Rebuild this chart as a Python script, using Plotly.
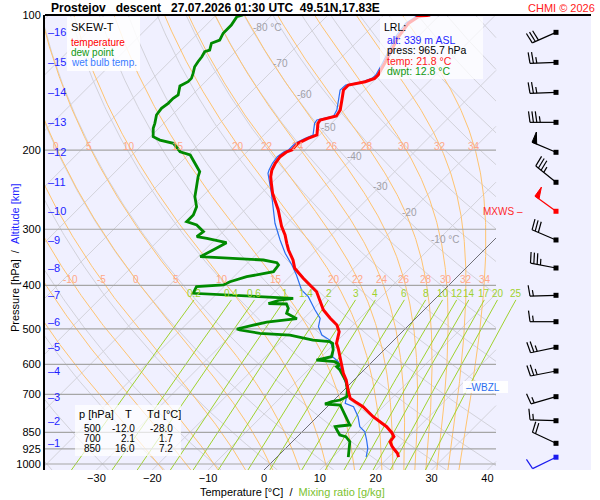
import numpy as np
import plotly.graph_objects as go

# ------------------------------------------------------------------ data
TEMP_P = [965.7, 946.6, 927.4, 911.8, 891.9, 869.4, 851.7, 825.9, 784.6, 745.4,
          726.5, 714.0, 690.2, 650.0, 628.1, 601.9, 566.8, 552.5, 538.5, 507.4,
          490.3, 473.7, 454.0, 431.3, 413.3, 385.8, 366.6, 351.3, 333.7, 322.5,
          309.0, 296.1, 286.1, 271.8, 258.3, 249.5, 237.1, 229.2, 221.4, 213.9,
          206.8, 201.6, 199.8, 193.1, 188.2, 185.0, 174.3, 171.3, 167.9, 162.8,
          154.6, 146.9, 143.2, 140.8, 138.4, 136.0, 128.1, 119.7, 111.8, 104.3,
          100.9, 100.0]
TEMP_T = [21.8, 20.9, 19.6, 18.6, 17.5, 17.3, 16.2, 14.2, 10.0, 6.4,
          4.1, 2.6, 1.1, -1.4, -3.1, -4.9, -7.3, -8.5, -9.7, -11.3,
          -12.9, -15.3, -18.0, -20.4, -22.5, -27.3, -30.6, -32.4, -35.0, -36.5,
          -38.3, -40.4, -41.9, -44.0, -46.4, -48.0, -50.0, -51.3, -52.3, -52.9,
          -53.2, -52.9, -52.3, -52.4, -51.5, -50.5, -52.4, -52.6, -50.4, -50.8,
          -52.3, -53.8, -53.8, -51.4, -50.3, -50.3, -51.2, -52.3, -53.5, -54.1,
          -53.5, -51.7]

WETB_P = [965.7, 922.7, 884.2, 847.4, 825.9, 784.6, 745.4, 732.5, 684.2, 617.5,
          591.8, 576.8, 557.3, 529.5, 516.1, 494.6, 473.7, 454.0, 438.6, 424.0,
          409.7, 379.4, 360.4, 339.4, 317.0, 291.0, 249.5, 225.2, 221.4, 213.9,
          206.8, 201.6, 199.8, 193.1, 188.2, 185.0, 174.3, 171.3, 167.9, 162.8,
          154.6, 146.9, 143.2, 140.8, 138.4, 136.0, 128.1, 119.7, 111.8, 104.3,
          100.9, 100.0]
WETB_T = [16.0, 14.7, 13.0, 11.2, 9.4, 7.3, 4.7, 2.6, 0.7, -4.1,
          -6.1, -8.0, -9.1, -11.5, -13.8, -15.9, -17.1, -19.5, -21.3, -23.1,
          -25.5, -29.1, -31.7, -35.0, -38.3, -42.2, -48.2, -52.4, -52.8, -53.4,
          -53.7, -53.4, -52.9, -52.9, -52.0, -51.2, -53.0, -53.2, -50.9, -51.4,
          -52.9, -54.4, -54.3, -51.9, -50.8, -50.7, -51.6, -52.8, -54.0, -54.6,
          -54.0, -52.2]

DEWP_P = [965.7, 930.7, 891.9, 869.4, 861.8, 840.0, 825.9, 822.9, 818.7, 784.6,
          751.6, 738.9, 735.2, 726.5, 720.2, 708.1, 684.2, 655.7, 617.5, 607.2,
          601.9, 591.8, 586.7, 576.8, 557.3, 538.5, 534.1, 529.5, 516.1, 511.6,
          503.0, 500.4, 482.8, 474.7, 461.7, 450.0, 440.2, 439.1, 431.3, 427.6,
          416.7, 402.8, 399.3, 392.6, 382.7, 373.0, 360.4, 356.2, 351.3, 345.4,
          333.7, 321.5, 314.3, 311.7, 303.8, 293.6, 288.6, 278.9, 267.3, 253.9,
          241.2, 229.2, 223.4, 213.9, 205.0, 201.6, 193.1, 189.9, 186.7, 178.8,
          174.3, 167.0, 161.4, 157.3, 153.3, 150.7, 143.9, 140.8, 138.4, 134.9,
          130.4, 127.1, 123.9, 120.7, 119.7, 115.6, 113.7, 109.8, 108.0, 105.3,
          100.9, 100.0]
DEWP_T = [12.8, 11.7, 10.3, 8.7, 7.3, 5.9, 5.0, 5.7, 7.3, 5.1,
          2.9, 2.0, -0.9, -0.1, 1.1, 1.7, 0.6, -1.1, -4.3, -5.5,
          -5.2, -6.7, -10.3, -8.2, -9.1, -10.4, -11.2, -14.5, -19.5, -25.2,
          -29.4, -30.1, -26.0, -21.2, -24.0, -24.6, -25.7, -29.0, -27.6, -25.5,
          -44.3, -44.9, -40.4, -39.8, -37.7, -33.8, -34.1, -34.8, -37.7, -49.6,
          -48.5, -47.4, -51.7, -53.8, -53.5, -55.9, -58.3, -58.3, -59.2, -61.3,
          -62.8, -64.3, -64.9, -67.3, -69.6, -72.0, -74.7, -77.7, -79.5, -81.0,
          -81.6, -82.8, -83.1, -82.8, -82.8, -82.5, -83.8, -83.1, -83.1, -83.7,
          -84.6, -84.9, -85.1, -85.5, -84.9, -85.8, -84.9, -85.5, -85.5, -85.5,
          -86.0, -85.2]

ALT_KM = [16, 15, 14, 13, 12, 11, 10, 9, 8, 7, 6, 5, 4, 3, 2, 1]
ALT_P = [109.3, 127.5, 148.7, 173.4, 202.2, 235.8, 273.6, 317.0, 366.0, 421.0,
         482.0, 549.7, 620.7, 708.0, 800.9, 899.3]

LRL_ALT_M = 339
LRL_P = 965.7
LRL_T = 21.8
LRL_TD = 12.8

WIND_P = ALT_P + [LRL_P]
WIND_DIR = [246, 268, 268, 270, 293, 309, 306, 293, 281, 268, 270, 258, 259, 254, 272, 295, 244]
WIND_KT = [30, 25, 25, 35, 50, 35, 50, 30, 35, 15, 15, 25, 25, 15, 15, 20, 10]
MXWS_INDEX = 6

WBZL_P = 673.8

PRESS_TICKS = [100, 200, 300, 400, 500, 600, 700, 850, 925, 1000]
TEMP_TICKS = [-30, -20, -10, 0, 10, 20, 30, 40]

ISOTHERMS = list(range(-130, 50, 10))
DRY_THETA = list(range(-40, 270, 10))
ISOTHERM_LABEL_T = [-80, -70, -60, -50, -40, -30, -20, -10]
ISOTHERM_LABEL_P = [106.4, 128.0, 150.7, 177.6, 207.0, 240.4, 276.0, 317.0]
ISOTHERM_LABEL_TXT = ["-80 °C", "-70", "-60", "-50", "-40", "-30", "-20", "-10 °C"]

MOIST_THW = [-20, -15, -10, -5, 0, 5, 10, 15, 20, 22, 24, 26, 28, 30, 32, 34]
MOIST_LAB_UPPER = [0, 5, 10, 15, 20, 22, 24, 26, 28, 30, 32, 34]
MOIST_LAB_LOWER = [-10, -5, 0, 5, 10, 15, 20, 22, 24, 26, 28, 30, 32, 34]
MOIST_LAB_UPPER_P = 196.0
MOIST_LAB_LOWER_P = 389.0

MIXR = [0.2, 0.4, 0.6, 1, 1.4, 2, 3, 4, 6, 8, 10, 12, 14, 17, 20, 25]
MIXR_TXT = ["0.2", "0.4", "0.6", "1", "1.4", "2", "3", "4", "6", "8", "10", "12", "14", "17", "20", "25"]
MIXR_TOP_P = 431.0
MIXR_LAB_P = 418.0

TABLE_P = [500, 700, 850]
TABLE_T = [-12.0, 2.1, 16.0]
TABLE_TD = [-28.0, 1.7, 7.2]

# ------------------------------------------------------------------ geometry
FONT = "Liberation Sans, Arial, sans-serif"
W, H = 600, 500
PL, PR, PT, PB = 45, 591, 15, 470
P_TOP, P_BOT = 100.0, 1031.2
PX_PER_DEG = 5.586
X_ZERO_PX = 264.0
GRID_RIGHT_PX = 496.0
LOGSPAN = np.log10(P_BOT) - np.log10(P_TOP)
SKEW = (PB - PT) / PX_PER_DEG / LOGSPAN


def px_to_xs(px):
    return (px - X_ZERO_PX) / PX_PER_DEG


XL, XR, XG = px_to_xs(PL), px_to_xs(PR), px_to_xs(GRID_RIGHT_PX)


def skew(T, p):
    return np.asarray(T, float) + SKEW * np.log10(P_BOT / np.asarray(p, float))


def p_to_py(p):
    return PT + (PB - PT) * (np.log10(p) - np.log10(P_TOP)) / LOGSPAN


def paper_x(px):
    return (px - PL) / (PR - PL)


def paper_y(py):
    return (PB - py) / (PB - PT)


def clip_right(xs, ps, xmax):
    lp = np.log10(np.asarray(ps, float))
    xs = np.asarray(xs, float)
    ox, op = [], []
    prev_in = None
    for i in range(len(xs)):
        inside = xs[i] <= xmax
        if i > 0 and inside != prev_in:
            t = (xmax - xs[i - 1]) / (xs[i] - xs[i - 1])
            li = lp[i - 1] + t * (lp[i] - lp[i - 1])
            ox.append(float(xmax)); op.append(float(10 ** li))
            if not inside:
                ox.append(None); op.append(None)
        if inside:
            ox.append(float(xs[i])); op.append(float(10 ** lp[i]))
        prev_in = inside
    ox.append(None); op.append(None)
    return ox, op


def es(Tc):
    return 6.112 * np.exp(17.67 * Tc / (Tc + 243.5))


def dT_dlnp(T, p):
    e = es(T - 273.15)
    rs = 0.622 * e / (p - e)
    return (287.04 * T + 2.501e6 * rs) / (1005.7 + 2.501e6 ** 2 * rs * 0.622 / (287.04 * T ** 2))


def moist_adiabat(thw):
    def integ(p0, p1, n):
        lps = np.linspace(np.log(p0), np.log(p1), n + 1)
        T = thw + 273.15
        out = [T]
        for i in range(n):
            h = lps[i + 1] - lps[i]
            pa, pm, pb = np.exp(lps[i]), np.exp(lps[i] + h / 2), np.exp(lps[i + 1])
            k1 = dT_dlnp(T, pa)
            k2 = dT_dlnp(T + h / 2 * k1, pm)
            k3 = dT_dlnp(T + h / 2 * k2, pm)
            k4 = dT_dlnp(T + h * k3, pb)
            T = T + h / 6 * (k1 + 2 * k2 + 2 * k3 + k4)
            out.append(T)
        return np.exp(lps), np.array(out)
    pu, Tu = integ(1000.0, P_TOP, 240)
    pd, Td = integ(1000.0, P_BOT, 6)
    p = np.concatenate([pd[::-1], pu[1:]])
    T = np.concatenate([Td[::-1], Tu[1:]]) - 273.15
    return p, T


def mixr_T(w, p):
    e = w * p / (622.0 + w)
    a = np.log(e / 6.112)
    return 243.5 * a / (17.67 - a)


fig = go.Figure()


def add_line(x, y, color, width, xaxis="x", yaxis="y", dash=None):
    fig.add_trace(go.Scatter(x=x, y=y, mode="lines", xaxis=xaxis, yaxis=yaxis,
                             line=dict(color=color, width=width, dash=dash),
                             hoverinfo="skip", showlegend=False, connectgaps=False))


# dry adiabats
pp = np.logspace(np.log10(P_BOT), np.log10(P_TOP), 160)
dx, dp = [], []
for th in DRY_THETA:
    T = (th + 273.15) * (pp / 1000.0) ** 0.2857 - 273.15
    cx, cp = clip_right(skew(T, pp), pp, XG)
    dx += cx; dp += cp
add_line(dx, dp, "#d2d2da", 1)

# isotherms
ix, ip = [], []
for T in ISOTHERMS:
    if T == 0:
        continue
    ps = np.array([P_BOT, P_TOP])
    cx, cp = clip_right(skew([T, T], ps), ps, XG)
    ix += cx; ip += cp
add_line(ix, ip, "#d2d2da", 1)

# moist adiabats
mx, mp = [], []
moist_curves = {}
for thw in MOIST_THW:
    p, T = moist_adiabat(thw)
    xs = skew(T, p)
    moist_curves[thw] = (p, xs)
    cx, cp = clip_right(xs, p, XG)
    mx += cx; mp += cp
add_line(mx, mp, "#ffc470", 1)

# mixing ratio lines
wx, wp = [], []
pw = np.logspace(np.log10(P_BOT), np.log10(MIXR_TOP_P), 40)
for w in MIXR:
    xs = skew(mixr_T(w, pw), pw)
    wx += list(map(float, xs)) + [None]
    wp += list(map(float, pw)) + [None]
add_line(wx, wp, "#9fd22e", 1)

# 0 degC isotherm
ps0 = np.array([P_BOT, P_TOP])
cx, cp = clip_right(skew([0, 0], ps0), ps0, XG)
add_line(cx, cp, "#707078", 1)

# isobars
bx, bp = [], []
for p in PRESS_TICKS[1:]:
    bx += [XL, XG, None]
    bp += [p, p, None]
add_line(bx, bp, "#a6a6a6", 1.2)

# sounding curves
add_line(list(skew(WETB_T, WETB_P)), WETB_P, "#2a6ef0", 1.2)
add_line(list(skew(DEWP_T, DEWP_P)), DEWP_P, "#008a00", 2.8)
add_line(list(skew(TEMP_T, TEMP_P)), TEMP_P, "#ff0000", 3)

# ------------------------------------------------------------------ wind barbs (pixel overlay)
BARB_X = 556.0
SHAFT = 26.0
FLEN = 11.0
SPACING = 3.4
groups = {}
for i, (p, d, s) in enumerate(zip(WIND_P, WIND_DIR, WIND_KT)):
    col = "#ff0000" if i == MXWS_INDEX else ("#1a1aee" if i == len(WIND_P) - 1 else "#000000")
    g = groups.setdefault(col, {"lx": [], "ly": [], "tx": [], "ty": [], "sx": [], "sy": []})
    x0, y0 = BARB_X, float(p_to_py(p))
    th = np.radians(d)
    ux, uy = np.sin(th), -np.cos(th)
    fx, fy = -uy, ux
    tx, ty = x0 + SHAFT * ux, y0 + SHAFT * uy
    g["lx"] += [x0, tx, None]; g["ly"] += [y0, ty, None]
    g["sx"].append(x0); g["sy"].append(y0)
    rem = int(round(s / 5.0)) * 5
    pos = 0.0
    while rem >= 50:
        ax_, ay_ = tx - pos * ux, ty - pos * uy
        bx_, by_ = tx - (pos + 5) * ux, ty - (pos + 5) * uy
        g["tx"] += [ax_, ax_ + FLEN * fx, bx_, ax_, None]
        g["ty"] += [ay_, ay_ + FLEN * fy, by_, ay_, None]
        pos += 6.5; rem -= 50
    while rem >= 10:
        ax_, ay_ = tx - pos * ux, ty - pos * uy
        g["lx"] += [ax_, ax_ + FLEN * fx + 1.5 * ux, None]
        g["ly"] += [ay_, ay_ + FLEN * fy + 1.5 * uy, None]
        pos += SPACING; rem -= 10
    if rem >= 5:
        if pos == 0:
            pos = SPACING
        ax_, ay_ = tx - pos * ux, ty - pos * uy
        g["lx"] += [ax_, ax_ + 0.55 * FLEN * fx + 0.8 * ux, None]
        g["ly"] += [ay_, ay_ + 0.55 * FLEN * fy + 0.8 * uy, None]

for col, g in groups.items():
    add_line(g["lx"], g["ly"], col, 1.2, xaxis="x2", yaxis="y2")
    if g["tx"]:
        fig.add_trace(go.Scatter(x=g["tx"], y=g["ty"], mode="lines", fill="toself",
                                 fillcolor=col, line=dict(color=col, width=1),
                                 xaxis="x2", yaxis="y2", hoverinfo="skip", showlegend=False))
    fig.add_trace(go.Scatter(x=g["sx"], y=g["sy"], mode="markers", xaxis="x2", yaxis="y2",
                             marker=dict(symbol="square", size=5, color=col),
                             hoverinfo="skip", showlegend=False))

# ------------------------------------------------------------------ annotations
ann = []
shapes = []


def txt(x, y, text, size=10, color="black", xanchor="left", yanchor="middle",
        xref="x2", yref="y2", **kw):
    ann.append(dict(x=x, y=y, xref=xref, yref=yref, text=text, showarrow=False,
                    borderpad=0, font=dict(family=FONT, size=size, color=color),
                    xanchor=xanchor, yanchor=yanchor, **kw))


def box(x0, x1, y0, y1, fill):
    shapes.append(dict(type="rect", xref="x2", yref="y2", x0=x0, x1=x1, y0=y0, y1=y1,
                       fillcolor=fill, line=dict(width=0), layer="above"))


NB = "\u00a0"
txt(paper_x(50), paper_y(8),
    "<b>Prostejov" + NB * 3 + "descent" + NB * 3 + "27.07.2026 01:30 UTC" + NB * 2 + "49.51N,17.83E</b>",
    size=12, xref="paper", yref="paper")
txt(paper_x(596), paper_y(8), "CHMI © 2026", size=11, color="#ff2020",
    xanchor="right", xref="paper", yref="paper")

# isotherm labels
for T, p, s in zip(ISOTHERM_LABEL_T, ISOTHERM_LABEL_P, ISOTHERM_LABEL_TXT):
    txt(float(skew(T, p)), float(np.log10(p)), s, size=10, color="#a0a0a8",
        xref="x", yref="y", xshift=-8)

# moist adiabat labels
for lst, plab in ((MOIST_LAB_UPPER, MOIST_LAB_UPPER_P), (MOIST_LAB_LOWER, MOIST_LAB_LOWER_P)):
    for thw in lst:
        p, xs = moist_curves[thw]
        xl = float(np.interp(np.log10(plab), np.log10(p[::-1]), xs[::-1]))
        txt(xl, float(np.log10(plab)), str(thw), size=10, color="#ffa888",
            xanchor="center", xref="x", yref="y")

# mixing ratio labels
for w, s in zip(MIXR, MIXR_TXT):
    xl = float(skew(mixr_T(w, MIXR_TOP_P), MIXR_TOP_P))
    txt(xl, float(np.log10(MIXR_LAB_P)), s, size=10, color="#9fd22e",
        xanchor="center", xref="x", yref="y")

# altitude labels
for km, p in zip(ALT_KM, ALT_P):
    txt(47, float(np.log10(p)), "–" + str(km), size=11, color="#1e1eff", yref="y")

# legend box
box(67, 140, 17, 71, "rgba(255,255,255,0.85)")
txt(70, 26.5, "SKEW-T", size=11)
txt(70, 42, "temperature", size=10, color="#ff0000")
txt(70, 52, "dew point", size=10, color="#119911")
txt(70, 62, "wet bulb temp.", size=10, color="#3a7cff")

# LRL box
box(380, 483, 17, 79, "rgba(255,255,255,0.72)")
txt(383, 27, "LRL:", size=10.5)
txt(386, 40, "alt: %d m ASL" % LRL_ALT_M, size=10.5, color="#1e1eff")
txt(386, 50, "press: %.1f hPa" % LRL_P, size=10.5)
txt(386, 60.5, "temp: %.1f °C" % LRL_T, size=10.5, color="#ff1a1a")
txt(386, 70.5, "dwpt: %.1f °C" % LRL_TD, size=10.5, color="#119911")

# table
box(75, 181, 405, 456, "rgba(255,255,255,0.7)")
txt(78, 414, "p [hPa]", size=11)
txt(128, 414, "T", size=11, xanchor="center")
txt(146, 414, "Td [°C]", size=11)
for i, (p, t, td) in enumerate(zip(TABLE_P, TABLE_T, TABLE_TD)):
    yy = 428.5 + 9.8 * i
    txt(102, yy, str(p), size=10, xanchor="right")
    txt(136, yy, "%.1f" % t, size=10, xanchor="right")
    txt(174, yy, "%.1f" % td, size=10, xanchor="right")

# MXWS / WBZL
txt(482, float(np.log10(WIND_P[MXWS_INDEX])), "MXWS" + NB + "–", size=10, color="#ff2a2a", yref="y")
box(463, 508, 381, 393, "rgba(255,255,255,0.9)")
txt(465, float(np.log10(WBZL_P)), "–WBZL", size=10, color="#2a6ef0", yref="y")

# axis titles
txt(paper_x(292), paper_y(492),
    "Temperature [°C]" + NB * 2 + "/" + NB * 2 + "<span style='color:#7cc230'>Mixing ratio [g/kg]</span>",
    size=11, xanchor="center", xref="paper", yref="paper")
txt(paper_x(15), paper_y(258),
    "Pressure [hPa]" + NB * 2 + "/" + NB * 2 + "<span style='color:#1e1eff'>Altitude [km]</span>",
    size=11, xanchor="center", xref="paper", yref="paper", textangle=-90)

shapes.append(dict(type="line", xref="paper", yref="paper", x0=0, x1=1, y0=1, y1=1,
                   line=dict(color="black", width=2), layer="above"))

fig.update_layout(
    width=W, height=H, autosize=False,
    margin=dict(l=PL, r=W - PR, t=PT, b=H - PB, pad=0),
    paper_bgcolor="white", plot_bgcolor="#f0f0ff",
    showlegend=False, hovermode=False,
    font=dict(family=FONT, size=11, color="black"),
    xaxis=dict(range=[XL, XR], showgrid=False, zeroline=False, showline=False,
               tickvals=TEMP_TICKS, ticks="", tickfont=dict(size=11, color="black"),
               fixedrange=True),
    yaxis=dict(type="log", range=[np.log10(P_BOT), np.log10(P_TOP)], showgrid=False,
               zeroline=False, showline=True, linecolor="black", linewidth=2,
               tickvals=PRESS_TICKS, ticktext=[str(p) for p in PRESS_TICKS], ticks="",
               tickfont=dict(size=11, color="black"), fixedrange=True),
    xaxis2=dict(range=[PL, PR], overlaying="x", visible=False, anchor="y2", fixedrange=True),
    yaxis2=dict(range=[PB, PT], overlaying="y", visible=False, anchor="x2", fixedrange=True),
    annotations=ann, shapes=shapes,
)

fig.write_html("out.html", config={"displayModeBar": False},
               post_script="document.body.style.margin='0px';document.body.style.overflow='hidden';")
